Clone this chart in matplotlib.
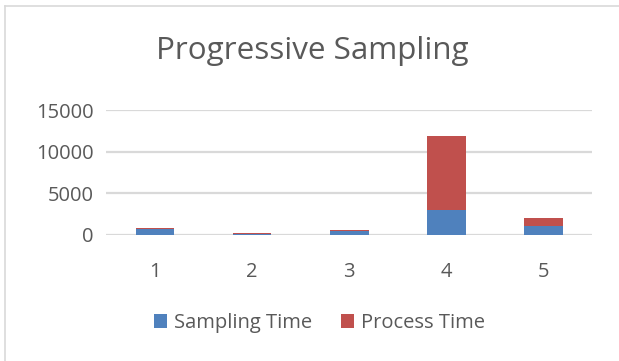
"""Stacked bar chart of progressive sampling timings per run."""

import matplotlib.pyplot as plt
from matplotlib.lines import Line2D
from matplotlib import font_manager

runs = ["1", "2", "3", "4", "5"]
sampling_time = [650, 20, 400, 3000, 1050]
process_time = [150, 200, 150, 8900, 920]
y_ticks = [0, 5000, 10000, 15000]

BLUE = "#4F81BD"
RED = "#C0504D"
TEXT = "#595959"
GRID = "#D9D9D9"

names = {f.name for f in font_manager.fontManager.ttflist}
family = "Liberation Sans Narrow" if "Liberation Sans Narrow" in names else "Open Sans"
plt.rcParams["font.family"] = [family, "DejaVu Sans"]

fig = plt.figure(figsize=(6.19, 3.61), dpi=100)
ax = fig.add_axes([0.172, 0.350, 0.784, 0.345])

x = range(len(runs))
ax.bar(x, sampling_time, width=0.4, color=BLUE, label="Sampling Time", zorder=3)
ax.bar(x, process_time, width=0.4, bottom=sampling_time, color=RED,
       label="Process Time", zorder=3)

ax.set_xlim(-0.5, len(runs) - 0.5)
ax.set_ylim(0, 15000)
ax.set_yticks(y_ticks)
ax.set_xticks(list(x))
ax.set_xticklabels(runs)
ax.tick_params(axis="both", length=0, labelsize=14.5, labelcolor=TEXT)
ax.tick_params(axis="x", pad=20)
ax.tick_params(axis="y", pad=9)
ax.grid(axis="y", color=GRID, linewidth=1.6, zorder=0)
for spine in ax.spines.values():
    spine.set_visible(False)

fig.text(0.505, 0.86, "Progressive Sampling", ha="center", va="center",
         fontsize=22.6, color=TEXT)

fig.legend(loc="center", bbox_to_anchor=(0.516, 0.105), ncol=2, frameon=False,
           fontsize=14.5, labelcolor=TEXT, handlelength=0.65, handleheight=0.65,
           handletextpad=0.35, columnspacing=1.4)

# chart frame (left and top edges only)
fig.add_artist(Line2D([5 / 619, 5 / 619], [0, 1 - 6 / 361], transform=fig.transFigure,
                      color="#D9D9D9", linewidth=1.2))
fig.add_artist(Line2D([5 / 619, 1], [1 - 6 / 361, 1 - 6 / 361], transform=fig.transFigure,
                      color="#D9D9D9", linewidth=1.2))

fig.savefig("out.png", dpi=100)
